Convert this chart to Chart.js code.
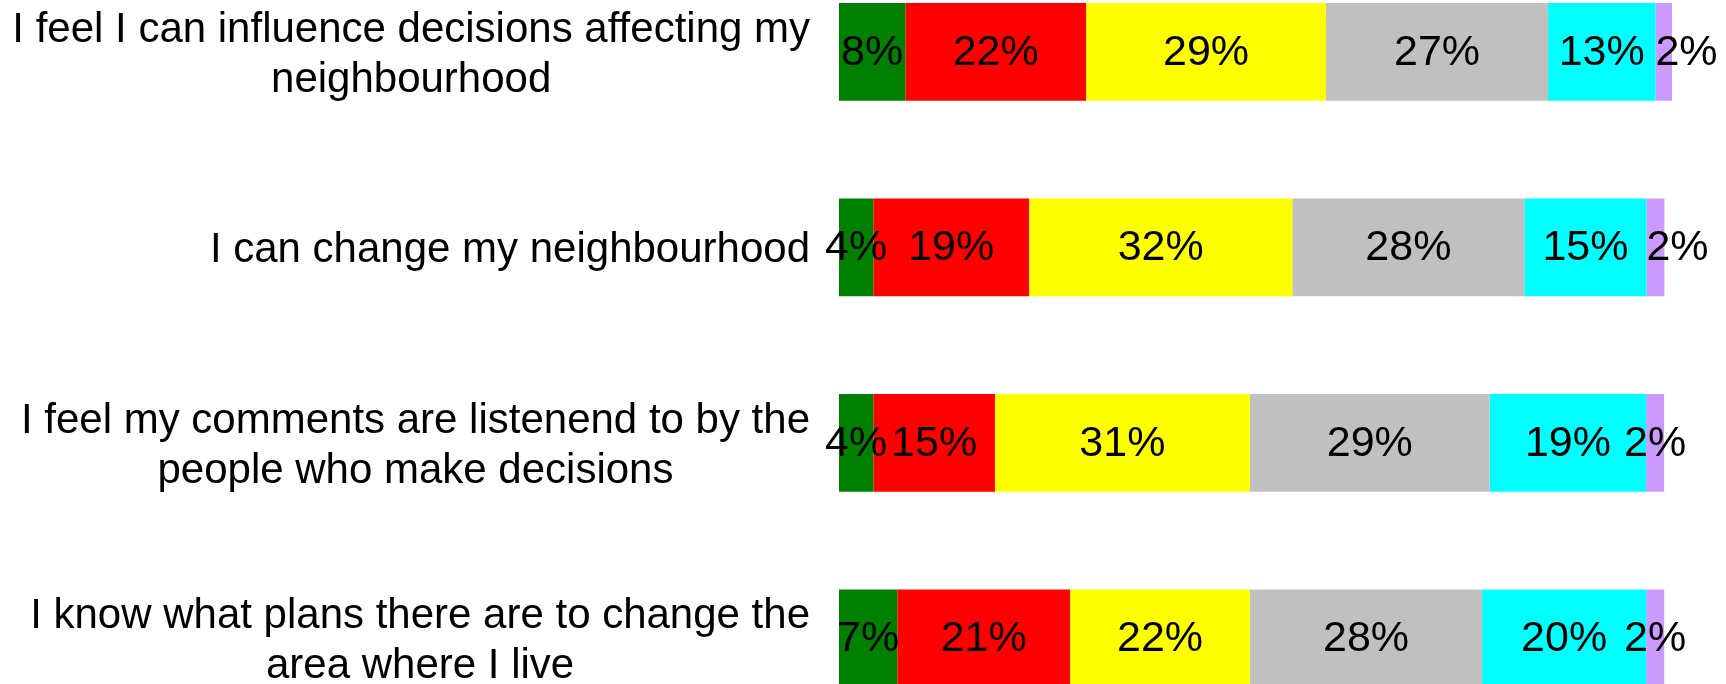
<!DOCTYPE html>
<html>
<head>
<meta charset="utf-8">
<title>Neighbourhood influence</title>
<script src="https://cdn.jsdelivr.net/npm/chart.js@4/dist/chart.umd.min.js"></script>
<style>
    html, body {
        margin: 0;
        padding: 0;
        background: #ffffff;
        overflow: hidden;
        width: 1726px;
        height: 684px;
    }
    #chartBox {
        position: absolute;
        left: 0;
        top: -46px;
        width: 1726px;
        height: 782px;
    }
</style>
</head>
<body>
<div id="chartBox"><canvas id="mainChart"></canvas></div>
<script>
// Categories (each one split into its printed lines)
const categories = [
    ['I feel I can influence decisions affecting my', 'neighbourhood'],
    ['I can change my neighbourhood'],
    ['I feel my comments are listenend to by the', 'people who make decisions'],
    ['I know what plans there are to change the', 'area where I live']
];

// Series values (percent), one array per colour band
const greenVals  = [7.96, 4.12, 4.12, 7.0];
const redVals    = [21.7, 18.7, 14.6, 20.74];
const yellowVals = [28.8, 31.6, 30.6, 21.6];
const greyVals   = [26.66, 27.86, 28.8, 27.86];
const cyanVals   = [12.89, 14.65, 18.77, 19.7];
const purpleVals = [2.0, 2.16, 2.16, 2.16];

const seriesNames  = ['Series 1', 'Series 2', 'Series 3', 'Series 4', 'Series 5', 'Series 6'];
const seriesValues = [greenVals, redVals, yellowVals, greyVals, cyanVals, purpleVals];
const seriesColors = ['#008000', '#ff0000', '#ffff00', '#c0c0c0', '#00ffff', '#cc99ff'];

const fontFamily = "'Liberation Sans', Arial, Helvetica, sans-serif";

// Draws the percentage inside each segment
const segmentLabels = {
    id: 'segmentLabels',
    afterDatasetsDraw(chart) {
        const ctx = chart.ctx;
        ctx.save();
        ctx.font = '43px ' + fontFamily;
        ctx.fillStyle = '#000000';
        ctx.textBaseline = 'middle';
        ctx.textAlign = 'left';
        const lastInkRight = {};
        chart.data.datasets.forEach((ds, di) => {
            const meta = chart.getDatasetMeta(di);
            meta.data.forEach((bar, i) => {
                const text = Math.round(ds.data[i]) + '%';
                const m = ctx.measureText(text);
                const w = m.width;
                const inkL = -m.actualBoundingBoxLeft;
                const inkR = m.actualBoundingBoxRight;
                const left = Math.min(bar.x, bar.base);
                const right = Math.max(bar.x, bar.base);
                let x = (left + right) / 2 - w / 2;
                // push the label right if its ink runs into the previous one
                if (lastInkRight[i] !== undefined && x + inkL < lastInkRight[i] + 4) {
                    x = left;
                }
                ctx.fillText(text, x, bar.y + 1);
                lastInkRight[i] = x + inkR;
            });
        });
        ctx.restore();
    }
};

// Category labels: block right aligned, lines centred inside the block
const categoryLabels = {
    id: 'categoryLabels',
    afterDraw(chart) {
        const ctx = chart.ctx;
        const yScale = chart.scales.y;
        const blockRight = 810;
        const lineHeight = 50;
        const capHalf = 15;
        ctx.save();
        ctx.font = '42px ' + fontFamily;
        ctx.fillStyle = '#000000';
        ctx.textAlign = 'center';
        ctx.textBaseline = 'alphabetic';
        categories.forEach((lines, i) => {
            const yc = yScale.getPixelForValue(i);
            let widest = 0;
            lines.forEach(l => { widest = Math.max(widest, ctx.measureText(l).width); });
            const cx = blockRight - widest / 2;
            lines.forEach((l, k) => {
                const y = yc + (k - (lines.length - 1) / 2) * lineHeight + capHalf;
                ctx.fillText(l, cx, y);
            });
        });
        ctx.restore();
    }
};

function initializeChart() {
    const chartEl = document.getElementById('mainChart');
    if (!chartEl) {
        console.warn('canvas not found');
        return;
    }
    const datasets = seriesValues.map((vals, k) => ({
        label: seriesNames[k],
        data: vals,
        backgroundColor: seriesColors[k],
        borderWidth: 0,
        categoryPercentage: 1.0,
        barPercentage: 0.5
    }));

    new Chart(chartEl.getContext('2d'), {
        type: 'bar',
        data: {
            labels: categories.map(c => c.join(' ')),
            datasets: datasets
        },
        options: {
            indexAxis: 'y',
            responsive: true,
            maintainAspectRatio: false,
            animation: false,
            layout: { padding: { left: 839, right: 54, top: 0, bottom: 0 } },
            plugins: {
                legend: { display: false },
                tooltip: { enabled: false },
                title: { display: false }
            },
            scales: {
                x: { stacked: true, min: 0, max: 100, display: false },
                y: { stacked: true, display: false }
            }
        },
        plugins: [segmentLabels, categoryLabels]
    });
}

initializeChart();
</script>
</body>
</html>
